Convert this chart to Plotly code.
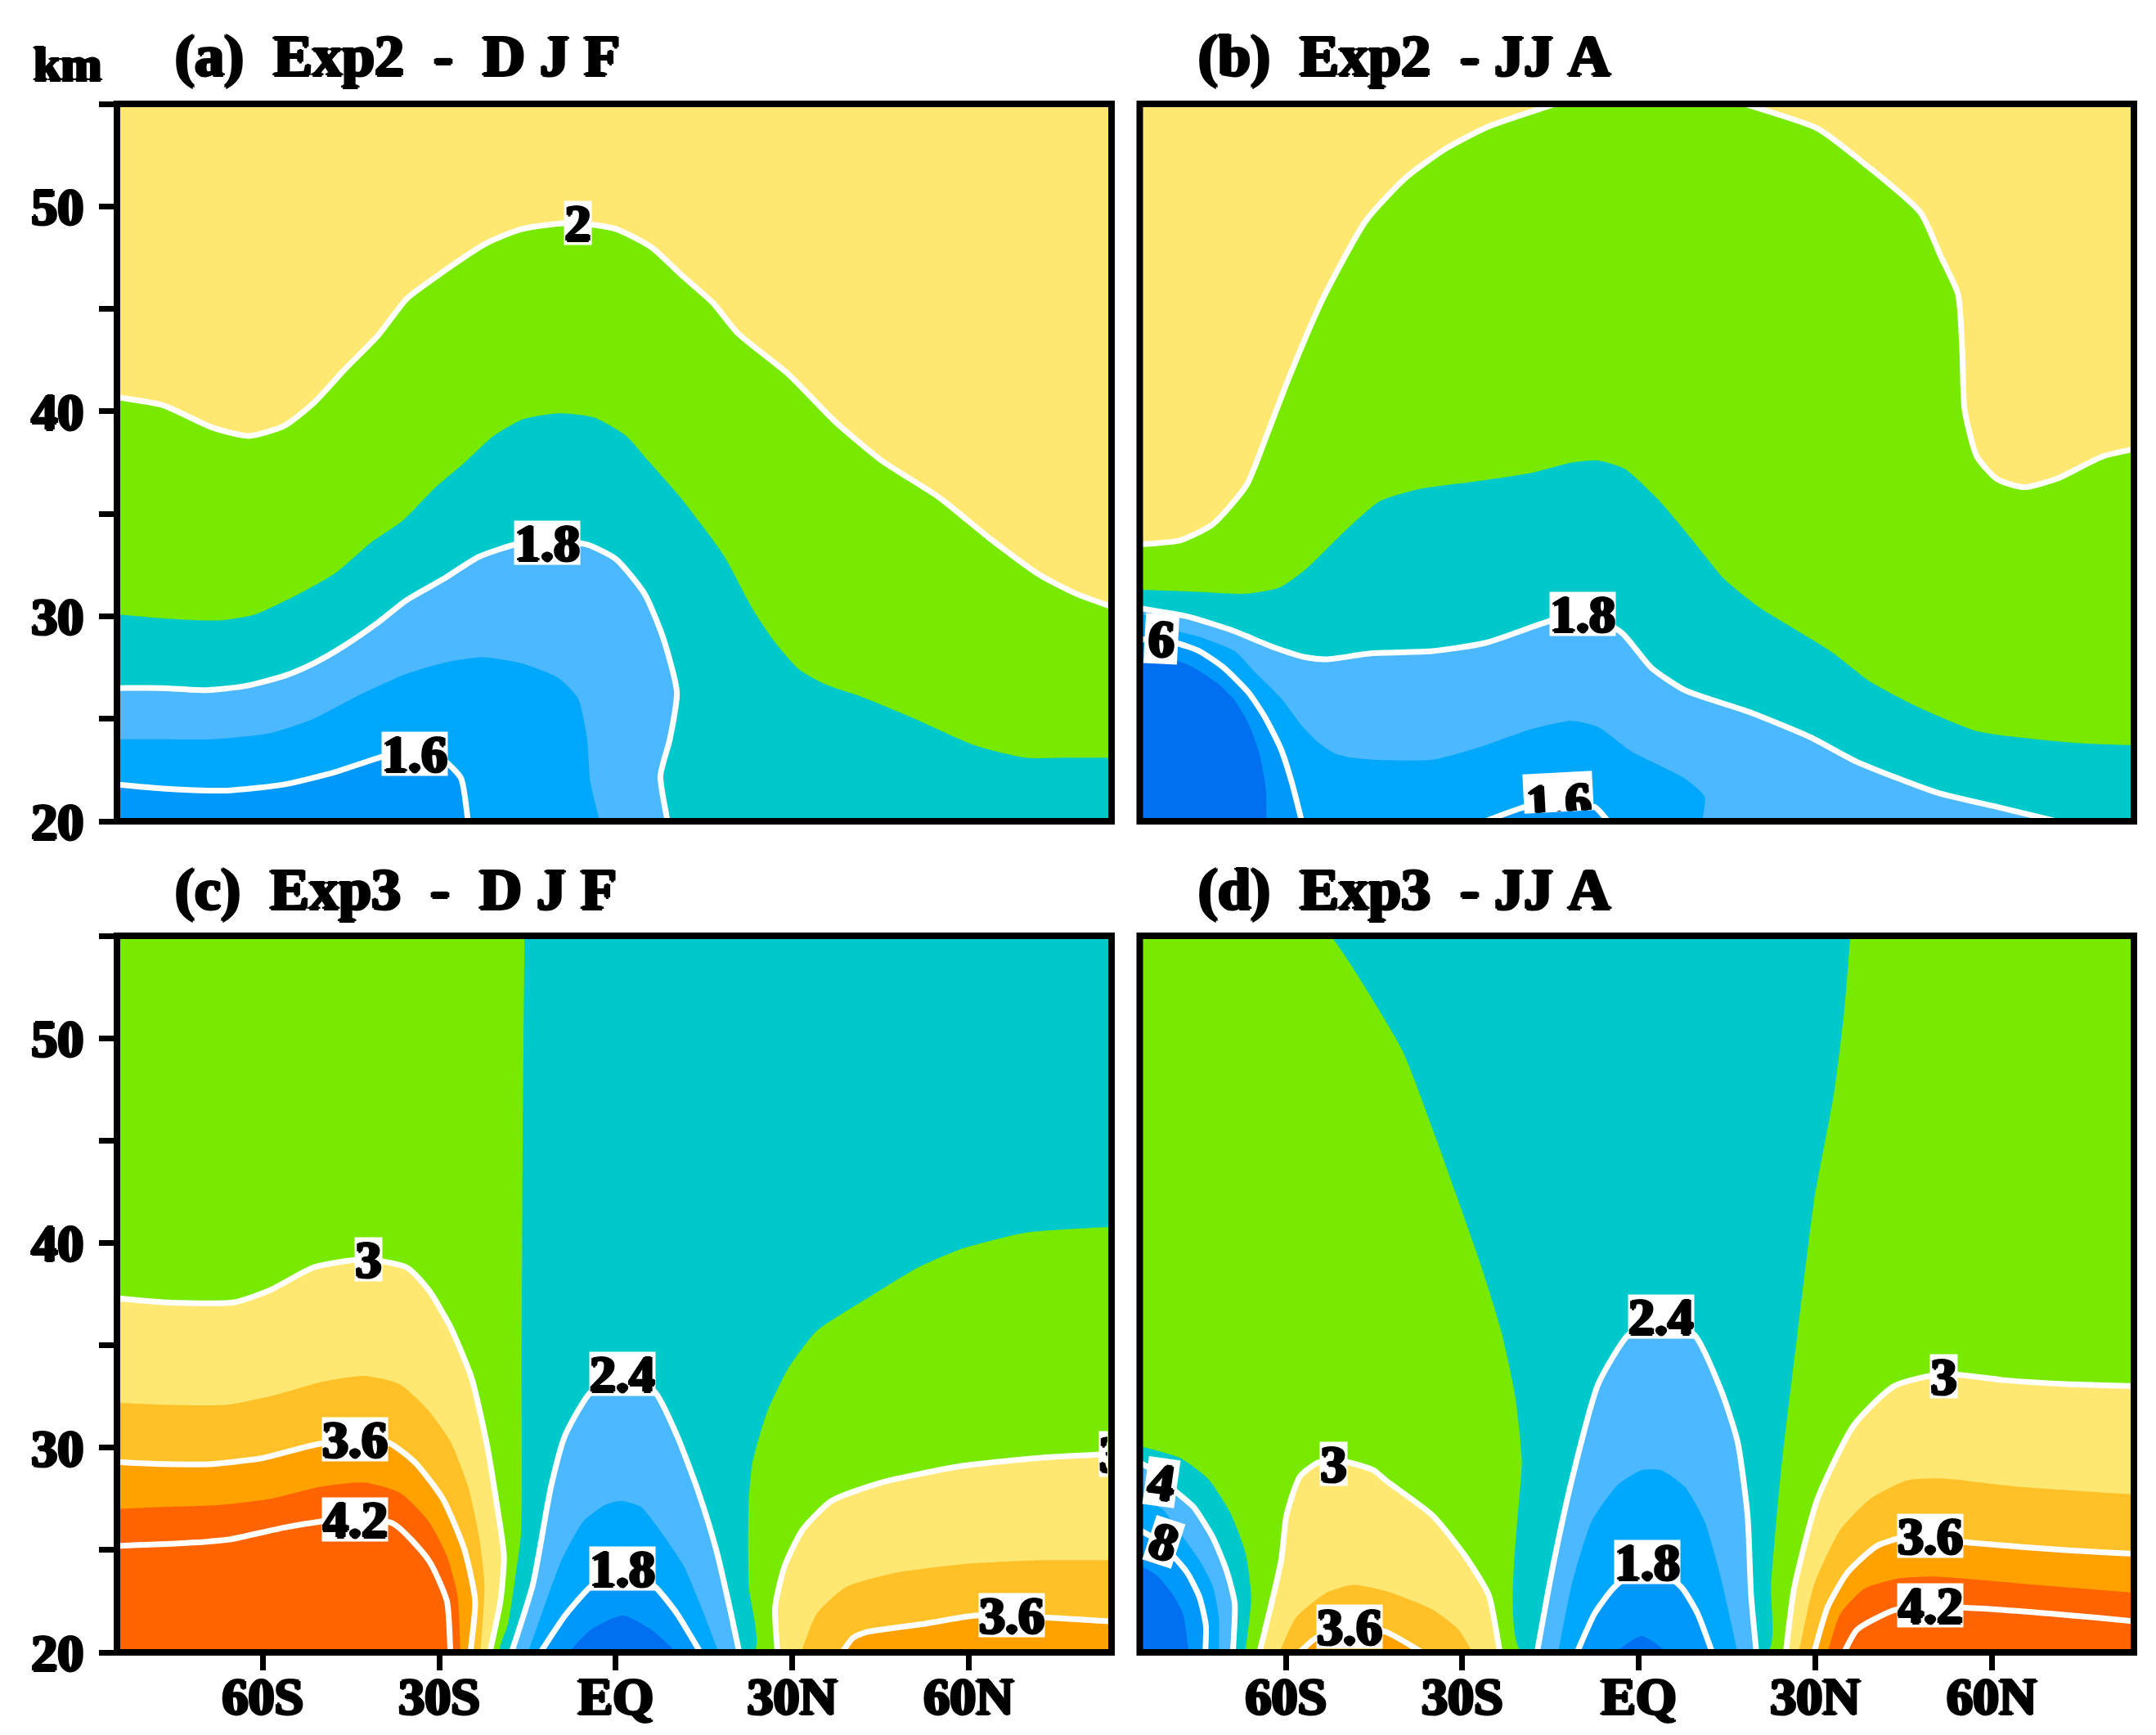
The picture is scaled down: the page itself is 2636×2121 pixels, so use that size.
import plotly.graph_objects as go

# ---------- contour lines: latitude (deg, S negative) and height (km) ----------
A_20_LAT = [-85,-77,-68.5,-62.4,-56.3,-51.4,-45.9,-40.4,-35.5,-29.4,-22,-15.9,-7.3,0,6.1,11,16.5,20.8,29.4,37.3,45.2,55,63.6,72.2,78.3,85]
A_20_KM = [40.7,40.3,39.2,38.8,39.3,40.4,42.1,43.7,45.5,46.8,48.2,48.9,49.2,48.9,48,46.7,45.3,43.8,41.8,39.5,37.6,35.8,33.8,32,31.1,30.4]
A_19_LAT = [-85,-77,-67.3,-61.2,-53.8,-47.7,-41.6,-36.1,-30.6,-25.7,-20.8,-15.9,-9.8,-3.7,1.8,5.5,11,18.3,23.2,26.9,31.2,35.5,41.6,50.1,61.1,69.7,77,85]
A_19_KM = [30.1,29.9,29.8,30.1,31.1,32.1,33.6,34.7,36.3,37.5,38.8,39.6,39.9,39.7,38.8,37.6,35.8,33,30.4,28.8,27.4,26.7,26.1,25.1,23.7,23.1,23.1,23.1]
A_18_LAT = [-85,-77,-69.7,-63,-56.3,-51.4,-46.5,-40.4,-35.5,-29.4,-23.3,-17.1,-11,-4.9,0,4.9,8,10.4,9.2,7.6,8.8]
A_18_KM = [26.5,26.5,26.4,26.6,27.1,27.7,28.5,29.7,30.8,31.8,32.9,33.5,33.7,33.5,32.8,31.1,29,26.3,24,22.2,20]
A_17_LAT = [-85,-77,-68.5,-58.7,-51.4,-44,-35.5,-28.1,-22.6,-15.9,-9.8,-6.4,-4.9,-4.3,-2.7]
A_17_KM = [24,24,24,24.3,25,26.1,27.2,27.8,28,27.7,27,26,24.1,21.9,20]
A_16_LAT = [-85,-77,-66,-56.3,-47.7,-39.1,-34.2,-29.4,-26.3,-25.1]
A_16_KM = [21.8,21.6,21.5,21.8,22.4,23.2,23.4,23,22.1,20]

B_20L_LAT = [-85,-78,-72.4,-66.7,-63.3,-59.4,-53.7,-46.4,-39.6,-32.9,-25.5,-14.2]
B_20L_KM = [33.5,33.7,34.5,36.4,38.8,41.7,45.5,49.3,51.4,52.8,53.9,55]
B_20R_LAT = [18,30.4,38.3,47.9,51.3,54.3,55,55.4,57.5,60.9,65.4,71,78.9,85]
B_20R_KM = [55,53.8,52.1,49.7,47.6,45.7,43,40.1,37.8,36.7,36.3,36.7,37.8,38.2]
B_19_LAT = [-85,-75.8,-66.7,-61.1,-56.6,-50.9,-44.1,-37.4,-27.2,-18.2,-11.4,-6.9,-2.4,3.3,8.9,14.6,20.2,32.6,39.4,47.3,57.5,67.6,75.5,85]
B_19_KM = [31.3,31.2,31.1,31.4,32.3,33.9,35.6,36.2,36.6,37,37.5,37.6,37.2,35.7,33.8,31.8,30.5,28.3,26.8,25.6,24.4,24,23.8,23.7]
B_18_LAT = [-85,-76.9,-69,-62.2,-56.6,-53.2,-45.3,-35.1,-26.1,-14.8,-9.1,-2.9,2.1,7.8,19.1,29.2,37.1,50.7,60.9,71]
B_18_KM = [30.4,30,29.3,28.5,28,27.9,28.2,28.3,28.7,29.8,30.1,29.2,27.5,26.4,25.3,24.1,22.9,21.4,20.7,20]
B_17_LAT = [-85,-82,-78.7,-74.7,-68.7,-65,-60.8,-57.1,-54.3,-51.6,-48.8,-45.1,-35.1,-27.2,-18.2,-11.4,-6.9,-1.2,7.8,11.2,10.8]
B_17_KM = [30.2,29.8,29.3,29,28.3,27.2,26,24.6,23.8,23.3,23.1,23,23,23.6,24.5,24.9,24.6,23.4,22.1,21.2,20]
B_16L_LAT = [-85,-78.7,-74.7,-70.6,-66.4,-63.6,-60.8,-59,-57.3]
B_16L_KM = [28.9,28.7,28.3,27.5,26.3,25.1,23.5,21.9,20]
B_16M_LAT = [-26.1,-19.3,-13.7,-7.5,-5.2]
B_16M_KM = [20,20.7,20.9,20.7,20]
B_15_LAT = [-85,-82,-79.1,-75.7,-71.5,-68.7,-66.4,-64.5,-63.4,-63.3]
B_15_KM = [28.2,28.1,27.9,27.5,26.7,25.9,24.8,23.3,21.6,20]

C_27_LAT = [-15.5,-15.8,-16,-16.1,-17.1,-18.3,-19.6]
C_27_KM = [55,45.6,34.5,25.8,23.6,21.4,20]
C_27R_LAT = [23.5,22.6,22.6,23.2,25.7,29.4,34.2,42.8,51.4,58.7,69.7,85]
C_27R_KM = [20,23.3,27.2,29.2,31.7,33.9,35.7,37.3,38.8,39.7,40.5,40.8]
C_30L_LAT = [-85,-77,-64.8,-58.7,-51.4,-42.8,-35.5,-31.8,-28.1,-24.5,-22,-20.2,-19,-19.6,-21.4]
C_30L_KM = [37.3,37.1,37.1,37.7,38.8,39.2,38.8,37.7,35.9,33.4,30.3,27.2,24.7,22.5,20]
C_33L_LAT = [-85,-77,-66,-57.5,-50.1,-42.8,-36.7,-31.8,-28.1,-25.1,-23.2,-22.3,-23]
C_33L_KM = [32.2,32.1,32.1,32.6,33.2,33.5,33.1,31.8,30.3,28.1,25.6,23.3,20]
C_36L_LAT = [-85,-77,-68.5,-59.9,-50.1,-39.1,-34.2,-29.4,-25.7,-23.9,-24.7]
C_36L_KM = [29.3,29.2,29.2,29.5,30.2,30.3,29.3,27.5,25,22.5,20]
C_39L_LAT = [-85,-77,-67.3,-58.7,-50.1,-42.8,-36.7,-31.8,-28.7,-26.9,-26.4]
C_39L_KM = [27,27.1,27.2,27.5,28.1,28.3,27.8,26.4,24.7,22.8,20]
C_42L_LAT = [-85,-75.8,-66,-56.3,-46.5,-37.9,-31.8,-28.7,-28.1]
C_42L_KM = [25.2,25.3,25.5,26.1,26.5,26.3,24.5,22.5,20]
C_24_LAT = [-17.7,-14.1,-11,-8.6,-4.3,1.2,6.7,10.4,14.1,17.1,19.6,21]
C_24_KM = [20,23.3,28.1,30.6,32.7,33.6,32.7,30.6,27.8,25,21.9,20]
C_21_LAT = [-14.9,-12.2,-9.2,-5.5,-1.8,1,4.3,7.9,11.6,14.7,17.5]
C_21_KM = [20,22.2,24.5,26.4,27.2,27.4,27.1,25.8,24.2,22.1,20]
C_18_LAT = [-12.8,-8.6,-4.3,1.2,6.7,10.4,14.4]
C_18_KM = [20,21.8,23.2,24.2,23.2,21.9,20]
C_15_LAT = [-8,-4.3,1.2,6.1,10.4]
C_15_KM = [20,21.1,21.8,21.1,20]
C_30R_LAT = [27.5,27.1,28.7,31.8,36.7,45.2,58.7,72.2,85]
C_30R_KM = [20,22.2,24.2,26,27.4,28.3,29.1,29.5,29.7]
C_33R_LAT = [31.5,34.2,39.2,47.7,58.7,72.2,85]
C_33R_KM = [20,21.9,23.2,23.9,24.3,24.5,24.5]
C_36R_LAT = [38.5,40.3,42.8,52.6,61.1,73.4,85]
C_36R_KM = [20,20.7,21,21.4,21.8,21.7,21.5]

D_27L_LAT = [-52.3,-49.2,-40.2,-35.1,-30.6,-26.6,-23.3,-21,-19.9,-19.9]
D_27L_KM = [55,53.7,49.4,45.6,42,38.7,35.6,32.5,29.5,20]
D_27R_LAT = [21.9,22.5,24.2,27,29.8,33.2,34.9,36]
D_27R_KM = [20,23.3,28.9,35.6,42,47.3,51.2,55]
D_C27_LAT = [-85,-78,-73.3,-69.6,-66.9,-65.9,-66.9]
D_C27_KM = [30.1,29.5,28.5,26.9,24.9,22.7,20]
D_C24_LAT = [-85,-81.5,-78.9,-75.7,-72.4,-70.1,-68.7,-69]
D_C24_KM = [29.3,28.7,27.9,27.1,25.6,24,22.4,20]
D_C21_LAT = [-85,-81,-78.2,-74.7,-72.4,-71.4,-71.4]
D_C21_KM = [27.5,27,25.9,24.5,23.2,21.7,20]
D_C18_LAT = [-85,-82,-79.8,-76.8,-74.7,-73.6,-73.7]
D_C18_KM = [26,25.5,24.9,23.9,22.7,21.3,20]
D_C15_LAT = [-85,-81.7,-79.4,-77.5,-76.5]
D_C15_KM = [24.3,23.7,22.9,21.9,20]
D_30A_LAT = [-64.5,-62.7,-60.8,-59.9,-57.6,-54.3,-49.7,-45.1,-43,-35.1,-29.5,-25.5,-23.6]
D_30A_KM = [20,22.1,24.5,26.7,28.6,29.3,29.3,28.9,28.4,26.7,24.7,22.8,20]
D_33A_LAT = [-61.1,-58.3,-53.2,-48.7,-43,-35.1,-30.6,-28.3]
D_33A_KM = [20,21.7,22.9,23.3,23,22.1,21.1,20]
D_36A_LAT = [-57.7,-54.9,-48.7,-43,-36.8]
D_36A_KM = [20,20.7,21.2,21,20]
D_24_LAT = [-17.3,-14.8,-11.4,-6.9,-1.8,3.8,9.5,14,16.8,18.5,19.1,20]
D_24_KM = [20,23.9,28.4,33.1,35.5,36.4,35.5,32.8,30.3,26.7,22.8,20]
D_21_LAT = [-13.7,-11.4,-8,-3.5,0.5,3.8,7.8,11.2,14,16.8]
D_21_KM = [20,23.3,26.4,28.2,28.9,28.9,28.1,26.4,23.6,20]
D_18_LAT = [-10.5,-7.5,-4.1,1.6,7.2,10,12.5]
D_18_KM = [20,21.9,23.2,24.3,23.2,21.9,20]
D_15_LAT = [-4.1,0.5,5]
D_15_KM = [20,20.8,20]
D_30R_LAT = [25,26.4,30.4,36.6,43.4,51.8,62,73.3,85]
D_30R_KM = [20,23.1,27.5,31.1,33,33.6,33.3,33.1,33]
D_33R_LAT = [27.2,29.8,34.3,39.4,45.6,51.3,64.2,85]
D_33R_KM = [20,23.3,26,27.5,28.4,28.5,28.1,27.7]
D_36R_LAT = [29.8,32.1,35.5,40.5,45,58.6,72.1,85]
D_36R_KM = [20,22.2,23.9,25.2,25.6,25.3,25,24.8]
D_39R_LAT = [32.1,34.3,38.3,43.9,50.7,67.6,85]
D_39R_KM = [20,21.9,23.1,23.6,23.7,23.3,22.9]
D_42R_LAT = [34.9,37.1,43.9,54.1,69.9,85]
D_42R_KM = [20,21.1,22.1,22.2,21.9,21.5]

# contour-label text, latitude, height
A_LABELS = [("2",-6.4,49.2),("1.8",-11.6,33.6),("1.6",-34.2,23.3)]
B_LABELS = [("1.8",-9.5,30.1)]
C_LABELS = [("3",-42,39.2),("2.4",1.2,33.6),("3.6",-44.4,30.4),("4.2",-44.4,26.5),("1.8",1.2,24.1),("3.6",67.3,21.8)]
D_LABELS = [("2.4",3.8,36.4),("3",51.9,33.5),("3.6",49.6,25.7),("4.2",49.6,22.3),("3",-51.9,29.2),("3.6",-49.2,21.25),("1.8",1.4,24.4)]

NB = "\u00a0"
TITLES = ["(a)"+NB*2+"Exp2"+NB*2+"-"+NB*2+"D"+NB+"J"+NB+"F",
          "(b)"+NB*2+"Exp2"+NB*2+"-"+NB+"JJ"+NB+"A",
          "(c)"+NB*2+"Exp3"+NB*2+"-"+NB*2+"D"+NB+"J"+NB+"F",
          "(d)"+NB*2+"Exp3"+NB*2+"-"+NB+"JJ"+NB+"A"]
Y_TICKS = [20,25,30,35,40,45,50,55]
Y_TEXT = ["20","","30","","40","","50",""]
X_TICKS = [-60,-30,0,30,60]
X_TEXT = ["60S","30S","EQ","30N","60N"]

# ---------- styles ----------
YEL,GRN,TEAL,LBL,BLU,DBL,DDB = "#FFE871","#78EA00","#00C9CC","#4BB8FF","#00A8FB","#0098FA","#0070F0"
OR1,OR2,OR3 = "#FFC028","#FFA200","#FF6400"
W,H = 2636,2121
FONT = "Liberation Serif"
SHADOW = "2px 0 0 #000, -2px 0 0 #000, 0 1.5px 0 #000, 0 -1.5px 0 #000"
BL,BR = (-105,5),(105,5)          # closing corners lie outside the axes and are clipped away
LR = [BR,BL]

PANELS = {
 "a": dict(box=(143,127,1359,1004), ax=("x","y"), bg=YEL),
 "b": dict(box=(1393.5,127,2609,1004), ax=("x2","y2"), bg=YEL),
 "c": dict(box=(143,1144,1359,2020), ax=("x3","y3"), bg=GRN),
 "d": dict(box=(1393.5,1144,2609,2020), ax=("x4","y4"), bg=GRN),
}
# layer = colour (None: line only), lat, km, corners that close the region, white line?
LAYERS = {
 "a":[(GRN,A_20_LAT,A_20_KM,LR,True),(TEAL,A_19_LAT,A_19_KM,LR,False),(LBL,A_18_LAT,A_18_KM,[BL],True),
      (BLU,A_17_LAT,A_17_KM,[BL],False),(DBL,A_16_LAT,A_16_KM,[BL],True)],
 "b":[(GRN,B_20L_LAT+B_20R_LAT,B_20L_KM+B_20R_KM,LR,False),(None,B_20L_LAT,B_20L_KM,[],True),(None,B_20R_LAT,B_20R_KM,[],True),
      (TEAL,B_19_LAT,B_19_KM,LR,False),(LBL,B_18_LAT,B_18_KM,[BL],True),(BLU,B_17_LAT,B_17_KM,[BL],False),
      (DBL,B_16L_LAT,B_16L_KM,[BL],True),(DBL,B_16M_LAT,B_16M_KM,[],True),(DDB,B_15_LAT,B_15_KM,[BL],False)],
 "c":[(TEAL,C_27_LAT+C_27R_LAT,C_27_KM+C_27R_KM,[(105,70)],False),
      (YEL,C_30L_LAT,C_30L_KM,[BL],True),(OR1,C_33L_LAT,C_33L_KM,[BL],False),(OR2,C_36L_LAT,C_36L_KM,[BL],True),
      (OR3,C_39L_LAT,C_39L_KM,[BL],False),(None,C_42L_LAT,C_42L_KM,[],True),
      (LBL,C_24_LAT,C_24_KM,[],True),(BLU,C_21_LAT,C_21_KM,[],False),(DBL,C_18_LAT,C_18_KM,[],True),(DDB,C_15_LAT,C_15_KM,[],False),
      (YEL,C_30R_LAT,C_30R_KM,[BR],True),(OR1,C_33R_LAT,C_33R_KM,[BR],False),(OR2,C_36R_LAT,C_36R_KM,[BR],True)],
 "d":[(TEAL,D_27L_LAT+D_27R_LAT,D_27L_KM+D_27R_KM,[],False),(TEAL,D_C27_LAT,D_C27_KM,[BL],False),
      (LBL,D_C24_LAT,D_C24_KM,[BL],True),(BLU,D_C21_LAT,D_C21_KM,[BL],False),(DBL,D_C18_LAT,D_C18_KM,[BL],True),(DDB,D_C15_LAT,D_C15_KM,[BL],False),
      (YEL,D_30A_LAT,D_30A_KM,[],True),(OR1,D_33A_LAT,D_33A_KM,[],False),(OR2,D_36A_LAT,D_36A_KM,[],True),
      (LBL,D_24_LAT,D_24_KM,[],True),(BLU,D_21_LAT,D_21_KM,[],False),(DBL,D_18_LAT,D_18_KM,[],True),(DDB,D_15_LAT,D_15_KM,[],False),
      (YEL,D_30R_LAT,D_30R_KM,[BR],True),(OR1,D_33R_LAT,D_33R_KM,[BR],False),(OR2,D_36R_LAT,D_36R_KM,[BR],True),
      (OR3,D_39R_LAT,D_39R_KM,[BR],False),(None,D_42R_LAT,D_42R_KM,[],True)],
}
LABELS = {"a":A_LABELS,"b":B_LABELS,"c":C_LABELS,"d":D_LABELS}
XRANGE = {"a":[-84.8,84.3],"b":[-84.85,84.2],"c":[-84.8,84.3],"d":[-84.85,84.2]}
SPLINE = dict(shape="spline",smoothing=0.6)

fig = go.Figure()
annots, shapes, layout = [], [], {}

def past_frame(seq):
    """Carry a line's ends straight on past the frame, so that the curve keeps its direction where it is clipped."""
    s = list(seq)
    return [2*s[0]-s[1]] + s + [2*s[-1]-s[-2]]

def ann_label(text,lat,km,xr,yr,w=None,h=53,angle=0,**kw):
    if w is None: w = 33 if len(text)==1 else 80
    annots.append(dict(text=text,x=lat,y=km,xref=xr,yref=yr,showarrow=False,bgcolor="#fff",borderpad=0,
        width=w,height=h,textangle=angle,font=dict(family=FONT,size=64,color="#000",weight="bold",shadow=SHADOW),**kw))

for key,p in PANELS.items():
    x0,y0,x1,y1 = p["box"]; xa,ya = p["ax"]
    sfx = xa[1:]
    lower = key in "cd"; left = key in "ac"
    layout["xaxis"+sfx] = dict(domain=[x0/W,x1/W],range=XRANGE[key],anchor=ya,showgrid=False,zeroline=False,showline=False,automargin=False,
        tickmode="array",tickvals=X_TICKS,ticktext=X_TEXT,ticks="outside" if lower else "",ticklen=21,tickwidth=7,tickcolor="#000",
        showticklabels=lower,ticklabelstandoff=-23,tickfont=dict(family=FONT,size=64,color="#000",weight="bold",shadow=SHADOW),
        layer="above traces")
    layout["yaxis"+sfx] = dict(domain=[1-y1/H,1-y0/H],range=[20,55],anchor=xa,showgrid=False,zeroline=False,showline=False,automargin=False,
        tickmode="array",tickvals=Y_TICKS,ticktext=Y_TEXT,ticks="outside" if left else "",ticklen=21,tickwidth=7,tickcolor="#000",
        showticklabels=left,ticklabelstandoff=6,tickfont=dict(family=FONT,size=64,color="#000",weight="bold",shadow=SHADOW),
        layer="above traces")
    # background level
    fig.add_trace(go.Scatter(x=[-105,105,105,-105],y=[5,5,70,70],mode="none",fill="toself",fillcolor=p["bg"],
                             xaxis=xa,yaxis=ya,showlegend=False,hoverinfo="skip"))
    for col,lat,km,corners,white in LAYERS[key]:
        xs,ys = past_frame(lat),past_frame(km)
        if col:
            fig.add_trace(go.Scatter(x=xs+[c[0] for c in corners],y=ys+[c[1] for c in corners],mode="lines",
                                     line=dict(width=0,color="rgba(0,0,0,0)",**SPLINE),
                                     fill="toself",fillcolor=col,xaxis=xa,yaxis=ya,showlegend=False,hoverinfo="skip"))
        if white:
            fig.add_trace(go.Scatter(x=xs,y=ys,mode="lines",line=dict(color="#fff",width=7,**SPLINE),xaxis=xa,yaxis=ya,
                                     showlegend=False,hoverinfo="skip"))
    shapes.append(dict(type="rect",xref=xa+" domain",yref=ya+" domain",x0=0,x1=1,y0=0,y1=1,layer="above",
                       line=dict(color="#000",width=8),fillcolor="rgba(0,0,0,0)"))
    for text,lat,km in LABELS[key]:
        ann_label(text,lat,km,xa,ya)

# labels cut by the frame
ann_label("6",-81.2,28.9,"x2","y2",w=40,h=60,angle=3)
ann_label("1.6",-13.7,20.35,"x2","y2",w=84,h=47,angle=-3,yanchor="bottom",valign="top")
ann_label("4",-81.1,28.3,"x4","y4",w=38,h=58,angle=8)
ann_label("8",-80.7,25.4,"x4","y4",w=36,h=56,angle=18)
ann_label("3",83.7,29.7,"x3","y3",w=10,h=55,xanchor="right",align="left")

# panel titles and unit
TITLE_POS = [(212,68),(1463,68),(212,1087),(1463,1087)]
for t,(px,py) in zip(TITLES,TITLE_POS):
    annots.append(dict(text=t,x=px/W,y=1-py/H,xref="paper",yref="paper",xanchor="left",yanchor="middle",showarrow=False,
                       font=dict(family=FONT,size=72,color="#000",weight="bold",shadow=SHADOW)))
annots.append(dict(text="km",x=82/W,y=1-78/H,xref="paper",yref="paper",xanchor="center",yanchor="middle",showarrow=False,
                   font=dict(family=FONT,size=60,color="#000",weight="bold",shadow=SHADOW)))

fig.update_layout(width=W,height=H,autosize=False,margin=dict(l=0,r=0,t=0,b=0),paper_bgcolor="#fff",plot_bgcolor="#fff",
                  showlegend=False,annotations=annots,shapes=shapes,**layout)
fig.write_html("out.html",config=dict(displayModeBar=False),post_script="document.body.style.margin='0';")
